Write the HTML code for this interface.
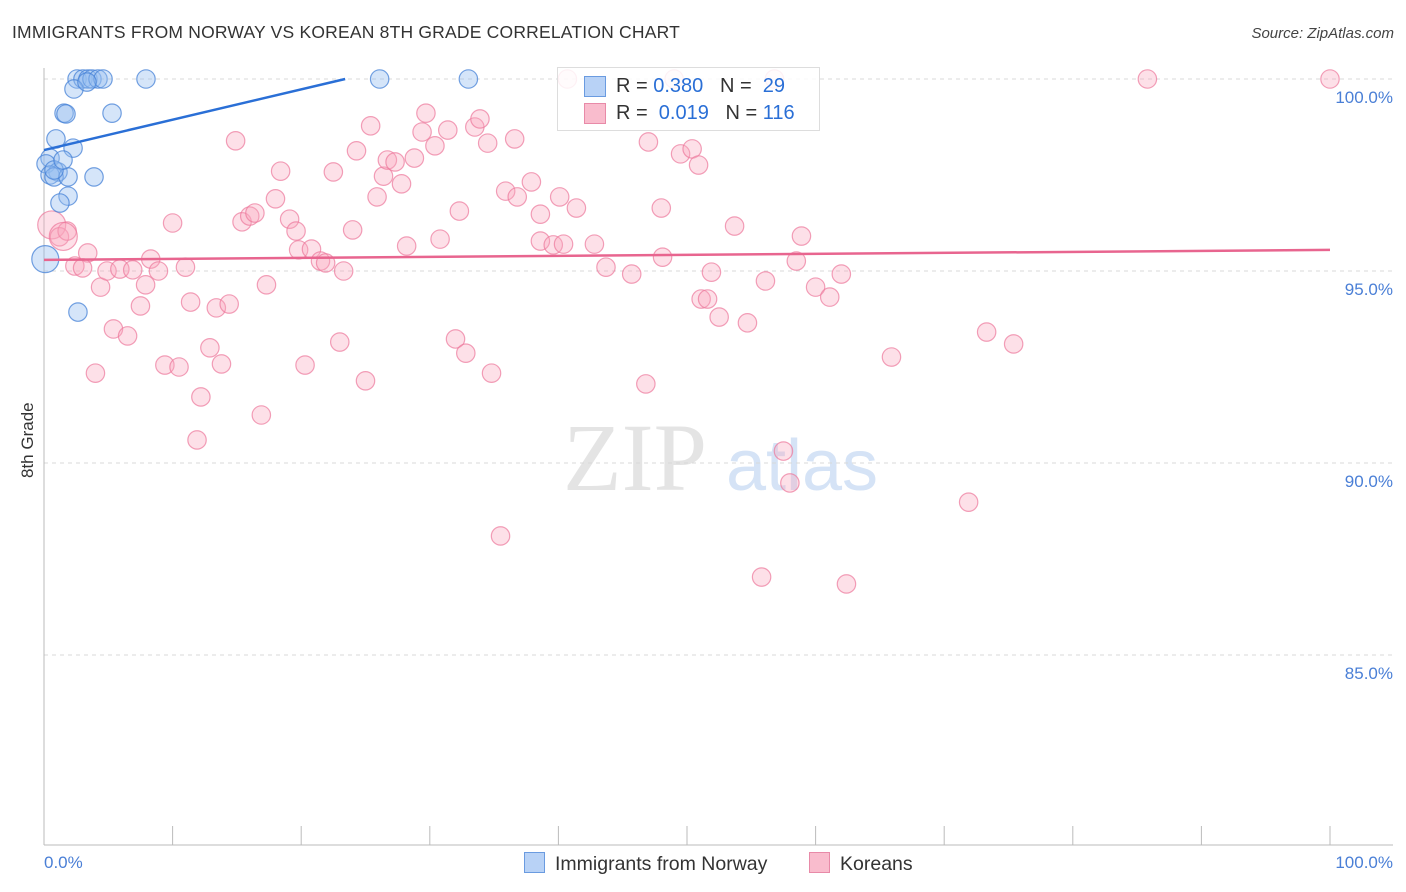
<!DOCTYPE html>
<html><head><meta charset="utf-8">
<style>
body{margin:0;background:#fff;font-family:"Liberation Sans",sans-serif;}
#wrap{position:relative;width:1406px;height:892px;overflow:hidden;}
.t{position:absolute;white-space:nowrap;}
</style></head>
<body><div id="wrap">
<div class="t" style="left:12px;top:22px;font-size:17.5px;color:#333;letter-spacing:0.2px">IMMIGRANTS FROM NORWAY VS KOREAN 8TH GRADE CORRELATION CHART</div>
<div class="t" style="right:12px;top:25px;font-size:15px;color:#444;font-style:italic">Source: ZipAtlas.com</div>
<svg id="svg" width="1406" height="892" style="position:absolute;left:0;top:0"></svg>
</div>
<script>
const blueX=[2.57,3.03,3.42,3.73,4.2,4.59,7.93,26.1,33.0,2.33,1.56,1.71,5.29,0.93,2.26,0.47,0.16,1.09,0.47,0.78,1.87,3.89,1.87,1.24,0.1,2.64,0.78,1.48,3.34];
const blueY=[100,100,100,100,100,100,100,100,100,99.74,99.11,99.09,99.11,98.44,98.2,97.94,97.79,97.58,97.5,97.45,97.45,97.45,96.95,96.77,95.31,93.93,97.63,97.89,99.92];
const pinkX=[0.6,1.2,1.8,3.4,2.4,3.0,4.4,4.9,5.4,4.0,5.9,6.5,6.9,7.5,7.9,8.3,8.9,9.4,10.0,10.5,11.0,11.4,11.9,12.2,12.9,13.4,13.8,14.4,14.9,15.4,16.0,16.4,16.9,17.3,18.0,18.4,19.1,19.6,19.8,20.3,20.8,21.5,21.9,22.5,23.0,23.3,24.0,24.3,25.0,25.4,25.9,26.4,26.7,27.3,27.8,28.2,28.8,29.4,29.7,30.4,30.8,31.4,32.0,32.3,32.8,33.5,33.9,34.5,34.8,35.5,35.9,36.6,36.8,37.9,38.6,38.6,39.6,40.1,40.4,40.7,41.4,42.8,43.7,45.7,46.8,47.0,48.0,48.1,49.0,49.5,50.4,50.9,51.1,51.6,51.9,52.5,53.7,54.7,55.8,56.1,56.8,57.5,58.0,58.5,58.9,60.0,61.1,62.0,62.4,65.9,71.9,73.3,75.4,85.8,100,1.5];
const pinkY=[96.2,95.89,96.04,95.47,95.13,95.08,94.58,95.0,93.49,92.34,95.05,93.31,95.03,94.09,94.64,95.31,95.0,92.55,96.25,92.5,95.1,94.19,90.6,91.72,93.0,94.04,92.58,94.14,98.39,96.28,96.43,96.51,91.25,94.64,96.88,97.6,96.35,96.04,95.55,92.55,95.57,95.26,95.21,97.58,93.15,95.0,96.07,98.13,92.14,98.78,96.93,97.47,97.89,97.84,97.27,95.65,97.94,98.62,99.11,98.26,95.83,98.67,93.23,96.56,92.86,98.75,98.96,98.33,92.34,88.1,97.08,98.44,96.93,97.32,96.48,95.78,95.68,96.93,95.7,100,96.64,95.7,95.1,94.92,92.06,98.36,96.64,95.36,100,98.05,98.18,97.76,94.27,94.27,94.97,93.8,96.17,93.65,87.03,94.74,100,90.31,89.48,95.26,95.91,94.58,94.32,94.92,86.85,92.76,88.98,93.41,93.1,100,100,95.9];
const yTicks=[100,95,90,85];
const yTickLabels=["100.0%","95.0%","90.0%","85.0%"];
const xTickVals=[0,10,20,30,40,50,60,70,80,90,100];
const blueTrend=[98.15,0.079];
const pinkTrend=[95.29,0.0026];
const X=v=>44+v*12.86, Y=v=>79+(100-v)*38.4;
const svg=document.getElementById('svg');const NS='http://www.w3.org/2000/svg';
function mk(tag,attrs,parent){const e=document.createElementNS(NS,tag);for(const k in attrs)e.setAttribute(k,attrs[k]);(parent||svg).appendChild(e);return e;}
let w1=mk('text',{x:635,y:490,'font-size':96,'font-family':'Liberation Serif',fill:'#e4e4e4','text-anchor':'middle'});w1.textContent='ZIP';


let w2=mk('text',{x:802,y:490,'font-size':72,'font-family':'Liberation Sans',fill:'#d5e3f6','text-anchor':'middle'});w2.textContent='atlas';


yTicks.forEach((t,i)=>{
 const g=mk('line',{x1:44,x2:1393,y1:Y(t),y2:Y(t),stroke:'#d8d8d8','stroke-dasharray':'4,4'});
 
 
 const l=mk('text',{x:1393,y:Y(t)+24,'font-size':17,fill:'#4a7fd6','text-anchor':'end'});l.textContent=yTickLabels[i];
 
 
});
const ax=mk('line',{x1:44,x2:44,y1:68,y2:845,stroke:'#bbb'});


const bx=mk('line',{x1:44,x2:1393,y1:845,y2:845,stroke:'#bbb'});


xTickVals.forEach(v=>{const t=mk('line',{x1:X(v),x2:X(v),y1:826,y2:845,stroke:'#bbb'});
 
 });
pinkX.forEach((x,i)=>{const c=mk('circle',{cx:X(x),cy:Y(pinkY[i]),r:(i==0||i==115)?14:9.2,fill:'rgba(248,165,190,0.35)',stroke:'rgba(236,120,155,0.7)','stroke-width':1.2});
 
 });
blueX.forEach((x,i)=>{const c=mk('circle',{cx:X(x),cy:Y(blueY[i]),r:i==24?13.5:9.2,fill:'rgba(150,190,240,0.4)',stroke:'rgba(70,130,215,0.75)','stroke-width':1.2});
 
 });
const bxEnd=(100-blueTrend[0])/blueTrend[1];
const bl=mk('line',{x1:X(0),y1:Y(blueTrend[0]),x2:X(bxEnd),y2:Y(100),stroke:'#2a6fd6','stroke-width':2.5});


const pl=mk('line',{x1:X(0),y1:Y(pinkTrend[0]),x2:X(100),y2:Y(pinkTrend[0]+pinkTrend[1]*100),stroke:'#e8658f','stroke-width':2.5});


</script>
<div class="t" style="left:5px;top:445px;font-size:17px;color:#333;transform:rotate(-90deg);transform-origin:center;width:46px;text-align:center">8th Grade</div>
<div class="t" style="left:44px;top:853px;font-size:17px;color:#4a7fd6">0.0%</div>
<div class="t" style="right:13px;top:853px;font-size:17px;color:#4a7fd6">100.0%</div>
<div style="position:absolute;left:557px;top:67px;width:261px;height:62px;border:1px solid #ddd;background:rgba(255,255,255,0.85);font-size:20px;">
 <div style="position:absolute;left:26px;top:8px;width:20px;height:19px;background:#b8d2f6;border:1px solid #6a9be0"></div>
 <div class="t" style="left:58px;top:7px;color:#333">R = <span style="color:#2a6fd6">0.380</span>&nbsp;&nbsp;&nbsp;N = &nbsp;<span style="color:#2a6fd6">29</span></div>
 <div style="position:absolute;left:26px;top:35px;width:20px;height:19px;background:#f9bccd;border:1px solid #e88aa8"></div>
 <div class="t" style="left:58px;top:34px;color:#333">R = &nbsp;<span style="color:#2a6fd6">0.019</span>&nbsp;&nbsp;&nbsp;N = <span style="color:#2a6fd6">116</span></div>
</div>
<div style="position:absolute;left:524px;top:852px;font-size:19.5px;color:#333">
 <span style="display:inline-block;width:19px;height:19px;background:#b8d2f6;border:1px solid #6a9be0;vertical-align:-3px;margin-right:10px"></span>Immigrants from Norway</div>
<div style="position:absolute;left:809px;top:852px;font-size:19.5px;color:#333">
 <span style="display:inline-block;width:19px;height:19px;background:#f9bccd;border:1px solid #e88aa8;vertical-align:-3px;margin-right:10px"></span>Koreans</div>
</body></html>
